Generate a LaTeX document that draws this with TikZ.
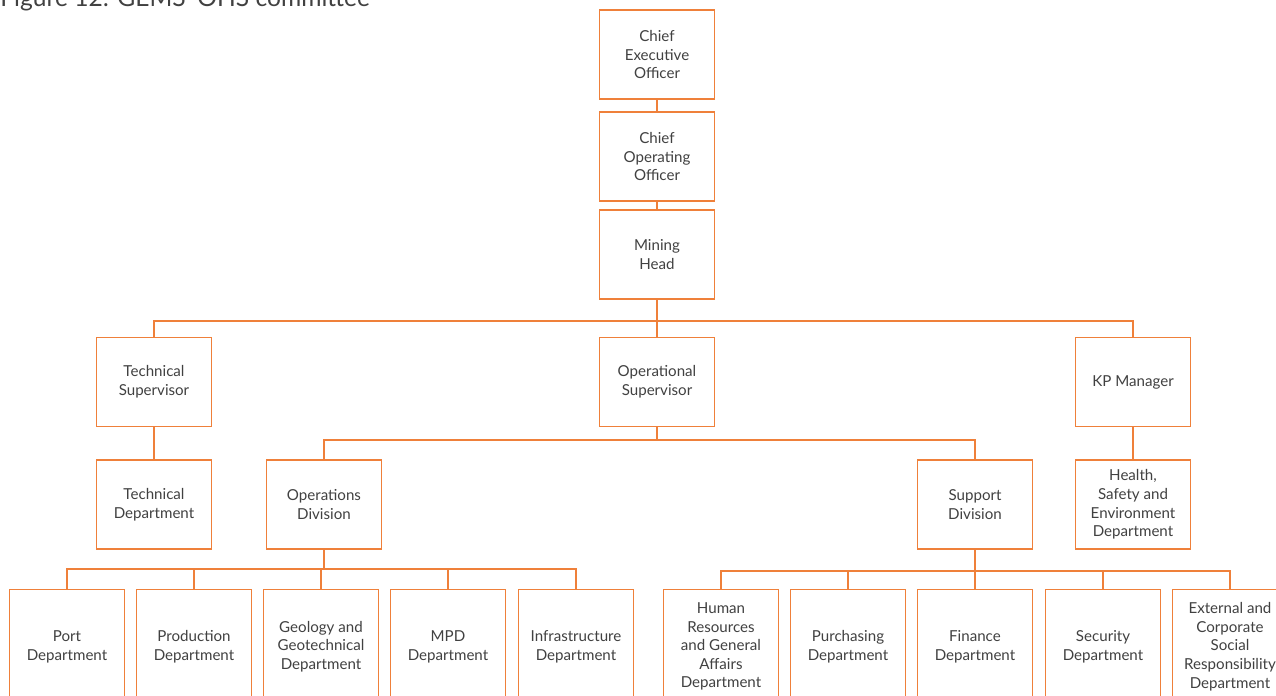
\documentclass[tikz,border=0pt]{standalone}
\usepackage{fontspec}
\setmainfont{Lato}
\usepackage{tikz}
\usetikzlibrary{positioning}
\definecolor{orgline}{RGB}{239,128,58}
\definecolor{txtgray}{RGB}{65,65,65}

\tikzset{
  unit/.style={draw=orgline, line width=0.7pt, fill=white, text=txtgray,
    minimum width=2.3cm, minimum height=1.78cm, align=center,
    font=\fontsize{8.6}{10.6}\selectfont, inner sep=1pt},
  dept/.style={unit, minimum height=2.28cm},
  link/.style={draw=orgline, line width=0.7pt}
}

\begin{document}
\begin{tikzpicture}[x=0.02cm, y=-0.02cm]
  \useasboundingbox (0,0) rectangle (1276,696);

  % title, cut at the top of the page
  \node[anchor=base west, inner sep=0pt, text=txtgray,
    font=\fontsize{14}{16}\selectfont] (title) at (0,7) {Figure 12: GEMS' OHS committee};

  % top of the chart
  \node[unit] (ceo) at (657,54.5) {Chief\\Executive\\Officer};
  \node[unit] (coo) at (657,156.5) {Chief\\Operating\\Officer};
  \node[unit] (head) at (657,254.5) {Mining\\Head};

  % supervisors
  \node[unit] (techsup) at (154,382) {Technical\\Supervisor};
  \node[unit] (opsup) at (657,382) {Operational\\Supervisor};
  \node[unit] (kpman) at (1133,382) {KP Manager};

  % second level
  \node[unit] (techdep) at (154,504.5) {Technical\\Department};
  \node[unit] (opdiv) at (324,504.5) {Operations\\Division};
  \node[unit] (supdiv) at (975,504.5) {Support\\Division};
  \node[unit] (hse) at (1133,504.5) {Health,\\Safety and\\Environment\\Department};

  % departments under operations
  \node[dept, anchor=north] (port) at (67,589) {Port\\Department};
  \node[dept, anchor=north] (prod) at (194,589) {Production\\Department};
  \node[dept, anchor=north] (geo) at (321,589) {Geology and\\Geotechnical\\Department};
  \node[dept, anchor=north] (mpd) at (448,589) {MPD\\Department};
  \node[dept, anchor=north] (infra) at (576,589) {Infrastructure\\Department};

  % departments under support
  \node[dept, anchor=north] (hr) at (721,589) {Human\\Resources\\and General\\Affairs\\Department};
  \node[dept, anchor=north] (purch) at (848,589) {Purchasing\\Department};
  \node[dept, anchor=north] (fin) at (975,589) {Finance\\Department};
  \node[dept, anchor=north] (sec) at (1103,589) {Security\\Department};
  \node[dept, anchor=north] (ext) at (1230,589) {External and\\Corporate\\Social\\Responsibility\\Department};

  % links
  \draw[link] (ceo) -- (coo);
  \draw[link] (coo) -- (head);

  \coordinate (hbar) at (657,321);
  \draw[link] (head.south) -- (hbar);
  \draw[link] (techsup.north) |- (hbar) -| (kpman.north);
  \draw[link] (hbar) -- (opsup.north);

  \draw[link] (techsup) -- (techdep);
  \draw[link] (kpman) -- (hse);

  \coordinate (obar) at (657,440);
  \draw[link] (opsup.south) -- (obar);
  \draw[link] (opdiv.north) |- (obar) -| (supdiv.north);

  \coordinate (dbar) at (324,569);
  \draw[link] (opdiv.south) -- (dbar);
  \draw[link] (port.north) |- (dbar) -| (infra.north);
  \draw[link] (prod.north) -- (prod.north |- dbar);
  \draw[link] (geo.north) -- (geo.north |- dbar);
  \draw[link] (mpd.north) -- (mpd.north |- dbar);

  \coordinate (sbar) at (975,571);
  \draw[link] (supdiv.south) -- (fin.north);
  \draw[link] (hr.north) |- (sbar) -| (ext.north);
  \draw[link] (purch.north) -- (purch.north |- sbar);
  \draw[link] (sec.north) -- (sec.north |- sbar);
\end{tikzpicture}
\end{document}
